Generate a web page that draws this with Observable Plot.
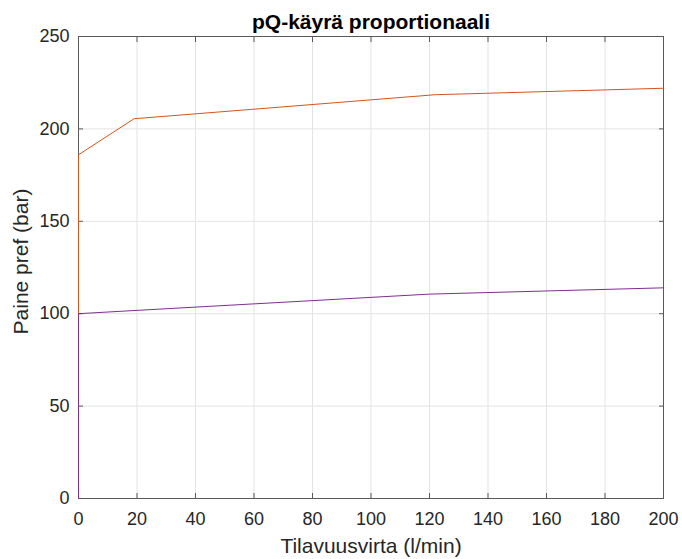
<!DOCTYPE html>
<html>
<head>
<meta charset="utf-8">
<script src="https://cdn.jsdelivr.net/npm/d3@7"></script>
<script src="https://cdn.jsdelivr.net/npm/@observablehq/plot@0.6"></script>
<style>
  html, body { margin: 0; padding: 0; background: #fff; }
</style>
</head>
<body>
<div id="chart"></div>
<script>
// Data
const orangeQ = [0, 0, 19, 122, 200];
const orangeP = [0, 186, 205.5, 218.5, 222];
const purpleQ = [0, 0, 20, 120, 200];
const purpleP = [0, 100, 101.8, 110.6, 114];

const xTicks = [0, 20, 40, 60, 80, 100, 120, 140, 160, 180, 200];
const yTicks = [0, 50, 100, 150, 200, 250];

const titleText = "pQ-käyrä proportionaali";
const xLabel = "Tilavuusvirta (l/min)";
const yLabel = "Paine pref (bar)";

const orange = orangeQ.map((q, i) => ({q, p: orangeP[i]}));
const purple = purpleQ.map((q, i) => ({q, p: purpleP[i]}));

const axisColor = "#595959";
const textColor = "#262626";

const chart = Plot.plot({
  width: 682,
  height: 559,
  marginLeft: 78,
  marginRight: 19,
  marginTop: 36,
  marginBottom: 61,
  x: {domain: [0, 200]},
  y: {domain: [0, 250]},
  style: {fontFamily: "'Liberation Sans', Arial, sans-serif", fontSize: "18px", color: textColor, background: "#fff"},
  marks: [
    Plot.gridX(xTicks, {stroke: "#e3e3e3", strokeOpacity: 1}),
    Plot.gridY(yTicks, {stroke: "#e3e3e3", strokeOpacity: 1}),
    Plot.frame({stroke: axisColor}),
    Plot.axisX(xTicks, {anchor: "bottom", tickSize: -5, tickPadding: 19, stroke: axisColor, fill: textColor,
      label: null, fontSize: 18}),
    Plot.axisX(xTicks, {anchor: "top", tickSize: -5, tickFormat: () => "", stroke: axisColor, label: null}),
    Plot.axisY(yTicks, {anchor: "left", tickSize: -5, tickPadding: 14, stroke: axisColor, fill: textColor,
      label: null, fontSize: 18}),
    Plot.axisY(yTicks, {anchor: "right", tickSize: -5, tickFormat: () => "", stroke: axisColor, label: null}),
    Plot.line(orange, {x: "q", y: "p", stroke: "#D95319", strokeWidth: 1}),
    Plot.line(purple, {x: "q", y: "p", stroke: "#7E2F8E", strokeWidth: 1}),
    Plot.text([xLabel], {frameAnchor: "bottom", dx: 0, dy: 54, lineAnchor: "bottom", textAnchor: "middle", fontSize: 21, fill: textColor}),
    Plot.text([yLabel], {frameAnchor: "left", dx: -51, dy: -6, rotate: -90, lineAnchor: "bottom", textAnchor: "middle", fontSize: 21, fill: textColor}),
    Plot.text([titleText], {frameAnchor: "top", dx: 0, dy: -8, lineAnchor: "bottom", textAnchor: "middle", fontWeight: "bold", fontSize: 21, fill: "#000"})
  ]
});
document.getElementById("chart").append(chart);
</script>
</body>
</html>
